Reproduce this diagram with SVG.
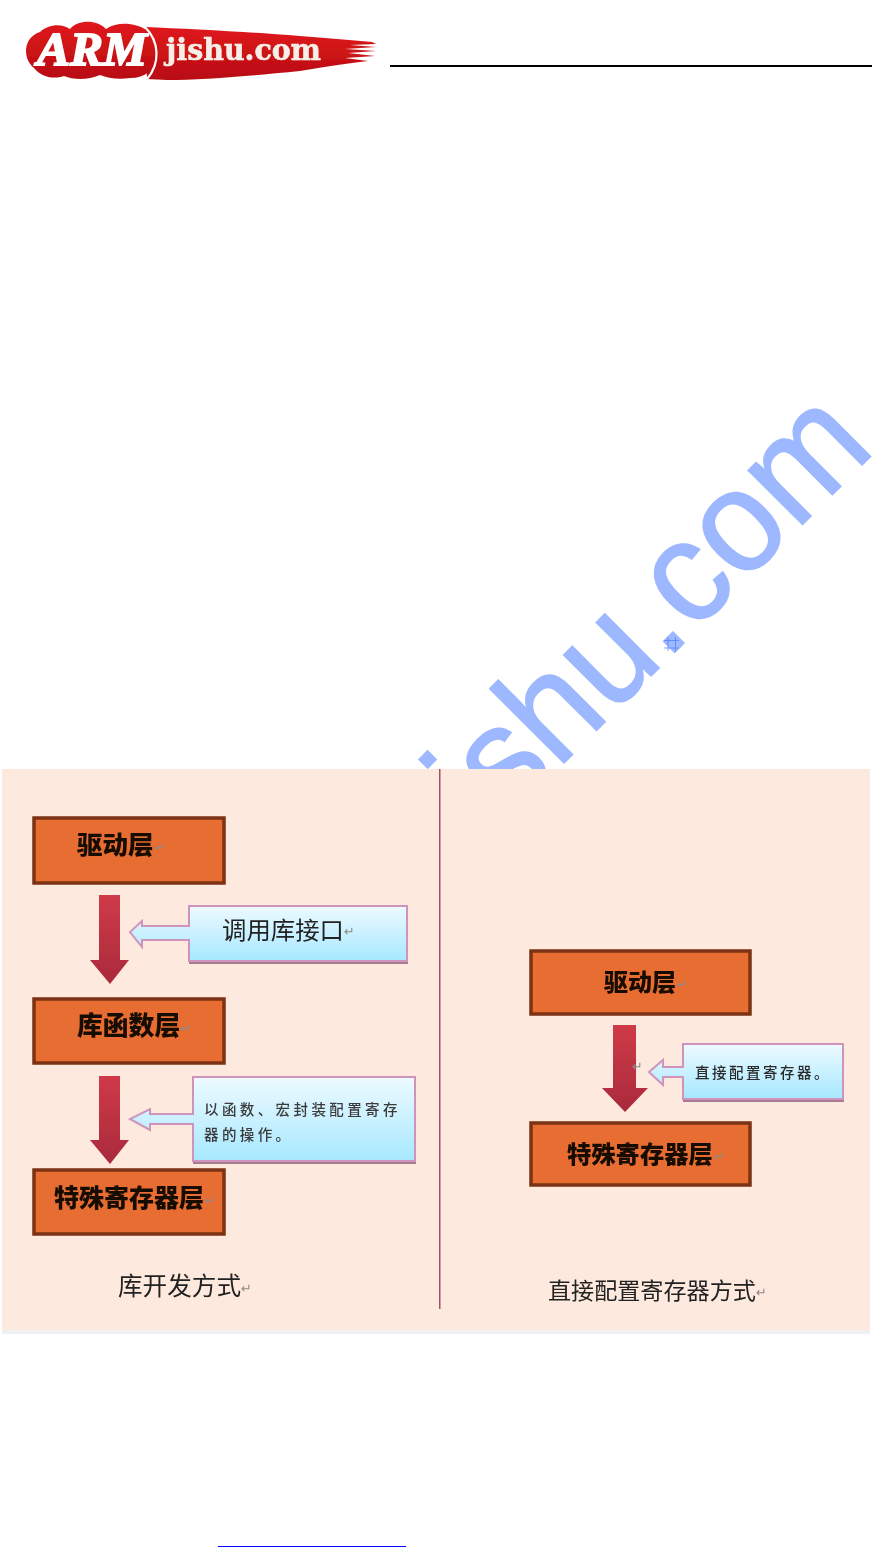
<svg xmlns="http://www.w3.org/2000/svg" width="872" height="1547" viewBox="0 0 872 1547">
<defs>
<style>
.cjk{font-family:"Noto Sans CJK SC","Liberation Sans",sans-serif}
.box{fill:#e76d31;stroke:#7b3212;stroke-width:3.5}
.bt{font-weight:900;fill:#160a04}
.rt{fill:#222}
.cb{fill:url(#blue);stroke:#cf94bc;stroke-width:2}
.sh{fill:#a87a94}
.ar{fill:url(#red)}
.ret{font-family:"DejaVu Sans",sans-serif;fill:#8f8a86;font-size:13px}
</style>
<linearGradient id="red" x1="0" y1="0" x2="0" y2="1"><stop offset="0" stop-color="#cf3a48"/><stop offset="1" stop-color="#a92a3c"/></linearGradient>
<linearGradient id="blue" x1="0" y1="0" x2="0" y2="1"><stop offset="0" stop-color="#eefaff"/><stop offset="1" stop-color="#a6e8ff"/></linearGradient>
<linearGradient id="logo" x1="0" y1="0" x2="0" y2="1"><stop offset="0" stop-color="#e01a1c"/><stop offset="1" stop-color="#b80c12"/></linearGradient>
<filter id="soft" x="-5%" y="-5%" width="110%" height="110%"><feGaussianBlur stdDeviation="0.6"/></filter>
</defs>
<rect width="872" height="1547" fill="#fff"/>

<g id="watermark">
<text transform="translate(486.700 840.300) rotate(-45) scale(1 1.05)" font-family="'Liberation Sans',sans-serif" font-size="138" fill="#9db8ff" stroke="#9db8ff" stroke-width="1.500">ishu.com</text>
<g stroke="#4d7bff" stroke-width="0.7" fill="none"><path d="M664 640.500H679M664 648H679M668 637V651M675.500 637V651"/></g>
</g>

<g id="logo-mark" filter="url(#soft)">
<path fill="url(#logo)" d="M145 27C190 29 250 32 300 36C325 38 350 40 372 42L376 44L350 45L376 47L345 49L376 51L348 53L375 56L345 58L368 61C340 64 320 68 300 71C250 76 200 80 167 80L147 79Z"/>
<path fill="url(#logo)" d="M40 32C48 24 62 23 70 29C78 20 96 19 106 29C118 21 136 23 146 30C154 38 158 48 156 58C154 70 146 78 130 78C118 80 108 78 100 75C88 80 74 80 64 76C52 80 40 76 34 68C26 62 24 50 28 42C30 38 34 34 40 32Z"/>
<path fill="none" stroke="#fff" stroke-width="2.200" d="M145 27C160 42 160 64 147 79"/>
<text x="37" y="65" font-family="'Liberation Serif',serif" font-weight="700" font-style="italic" font-size="46" fill="#fff" stroke="#fff" stroke-width="1.800" textLength="110" lengthAdjust="spacingAndGlyphs">ARM</text>
<text x="166" y="60" font-family="'DejaVu Serif',serif" font-weight="700" font-size="29" fill="#f6efe8" stroke="#f6efe8" stroke-width="0.6" textLength="155" lengthAdjust="spacingAndGlyphs">jishu.com</text>
</g>
<rect id="header-rule" x="390" y="65" width="482" height="2" fill="#000"/>

<rect id="panel-edge" x="2" y="1329" width="868" height="5" fill="#eef0f2"/>
<rect id="panel" x="2" y="769" width="868" height="561" fill="#fde9dd"/>
<rect id="divider" x="439" y="769" width="1.500" height="540" fill="#a4506c"/>

<g filter="url(#soft)">
<g id="connectors">
<path class="ar" d="M99 895H120V960H129L110 984L90 960H99Z"/>
<path class="ar" d="M99 1076H120V1140H129L110 1164L90 1140H99Z"/>
<path class="ar" d="M613 1025H636V1088H648L625 1112L602 1088H613Z"/>
</g>

<g id="node-driver-left">
<rect class="box" x="34" y="818" width="190" height="65"/>
<text class="cjk bt" x="77" y="854" font-size="25.500">驱动层</text><text class="ret" x="155" y="852">↵</text>
</g>
<g id="node-lib-left">
<rect class="box" x="34" y="999" width="190" height="64"/>
<text class="cjk bt" x="77" y="1035" font-size="25.800">库函数层</text><text class="ret" x="181" y="1033">↵</text>
</g>
<g id="node-reg-left">
<rect class="box" x="34" y="1170" width="190" height="64"/>
<text class="cjk bt" x="54" y="1207" font-size="25">特殊寄存器层</text><text class="ret" x="205" y="1205">↵</text>
</g>

<g id="callout-1">
<rect class="sh" x="189" y="908" width="219" height="56"/>
<path class="cb" d="M189 906H407V961H189V940H142V947L130 932L142 921V926H189Z"/>
<text class="cjk rt" x="222" y="939" font-size="24.400">调用库接口</text><text class="ret" x="344" y="936" font-size="15px">↵</text>
</g>
<g id="callout-2">
<rect class="sh" x="193" y="1079" width="223" height="85"/>
<path class="cb" d="M193 1077H415V1161H193V1124H150V1130L130 1119L150 1109V1114H193Z"/>
<text class="cjk" fill="#3a3a3a" x="204" y="1115" font-size="14.500" font-weight="500" letter-spacing="3.400">以函数、宏封装配置寄存</text>
<text class="cjk" fill="#3a3a3a" x="204" y="1140" font-size="14.500" font-weight="500" letter-spacing="3.400">器的操作。</text>
</g>

<g id="node-driver-right">
<rect class="box" x="531" y="951" width="219" height="63"/>
<text class="cjk bt" x="604" y="991" font-size="24">驱动层</text><text class="ret" x="677" y="989">↵</text>
</g>
<g id="node-reg-right">
<rect class="box" x="531" y="1123" width="219" height="62"/>
<text class="cjk bt" x="567" y="1163" font-size="24.300">特殊寄存器层</text><text class="ret" x="714" y="1161">↵</text>
</g>
<g id="callout-3">
<rect class="sh" x="683" y="1046" width="161" height="56"/>
<path class="cb" d="M683 1044H843V1099H683V1077H663V1085L649 1072L663 1060V1067H683Z"/>
<text class="cjk" fill="#2a2a2a" x="695" y="1078" font-size="14.500" font-weight="500" letter-spacing="2.500">直接配置寄存器。</text>
<text class="ret" x="632" y="1071" font-size="15px">↵</text>
</g>

<g id="captions">
<text class="cjk rt" x="118" y="1295" font-size="24.600">库开发方式</text><text class="ret" x="241" y="1293" font-size="15px">↵</text>
<text class="cjk rt" x="548" y="1299" font-size="23.100">直接配置寄存器方式</text><text class="ret" x="756" y="1297" font-size="15px">↵</text>
</g>
</g>
<rect id="footer-link-rule" x="218" y="1546" width="188" height="1.200" fill="#00f"/>
</svg>
